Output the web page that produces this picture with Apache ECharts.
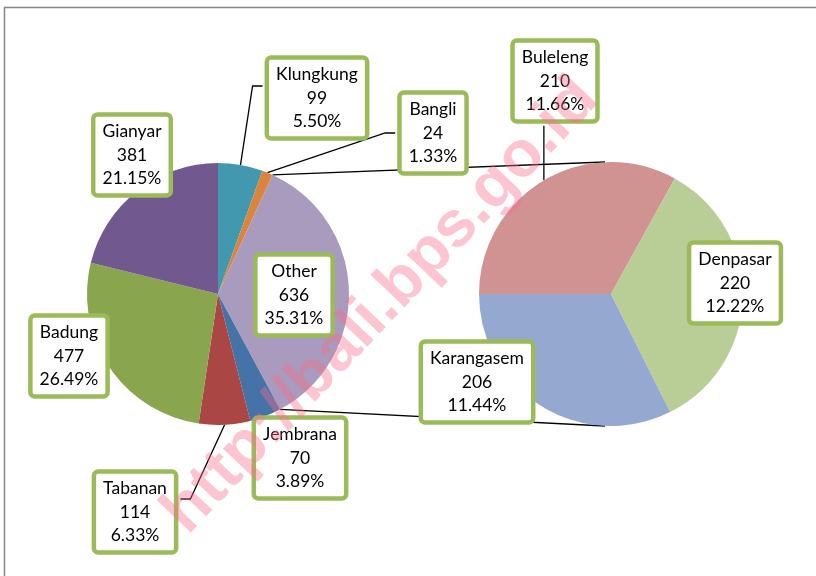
<!DOCTYPE html>
<html>
<head>
<meta charset="utf-8">
<style>
  html, body { margin: 0; padding: 0; background: #fff; }
  #chart { width: 816px; height: 576px; }
</style>
<script src="https://cdn.jsdelivr.net/npm/echarts@6/dist/echarts.min.js"></script>
</head>
<body>
<div id="chart"></div>
<script>
// kabupaten in the main pie (the "Other" slice sits after Bangli)
const mainNames = ['Klungkung', 'Bangli', 'Jembrana', 'Tabanan', 'Badung', 'Gianyar']
const mainValues = [99, 24, 70, 114, 477, 381]
// kabupaten split out into the second pie
const otherNames = ['Buleleng', 'Denpasar', 'Karangasem']
const otherValues = [210, 220, 206]

const mainColors = ['#4198AF', '#DB843D', '#4572A7', '#AA4643', '#89A54E', '#71588F']
const otherColor = '#A99BBD'
const otherColors = ['#D19392', '#B9CD96', '#95A9D0']

const sum = arr => arr.reduce((a, b) => a + b, 0)
const otherTotal = sum(otherValues)
const leftNames = [mainNames[0], mainNames[1], 'Other', ...mainNames.slice(2)]
const leftValues = [mainValues[0], mainValues[1], otherTotal, ...mainValues.slice(2)]
const leftColors = [mainColors[0], mainColors[1], otherColor, ...mainColors.slice(2)]
const grandTotal = sum(leftValues)

// geometry: start = degrees clockwise from 12 o'clock
const leftPie = { center: [218, 294], r: 131, start: 0 }
const rightPie = { center: [611, 294], r: 132, start: 270 }

// where each label box is centred
const labelPos = {
  Klungkung: [317, 98],
  Bangli: [433, 133],
  Other: [294, 295],
  Jembrana: [300, 458],
  Tabanan: [135, 512],
  Badung: [69, 356],
  Gianyar: [132, 155],
  Buleleng: [555, 81],
  Denpasar: [735, 283],
  Karangasem: [477, 382]
}
const leaders = {
  Klungkung: { side: 'left', dy: -12 },
  Bangli: { side: 'left', dy: 0 },
  Tabanan: { side: 'right', dy: -13 },
  Buleleng: { side: 'bottom', dy: 0 }
}

function angleAt (values, idx, start, frac) {
  const before = sum(values.slice(0, idx))
  return start + (before + values[idx] * frac) / sum(values) * 360
}
function pointAt (pie, deg) {
  const a = deg * Math.PI / 180
  return [pie.center[0] + pie.r * Math.sin(a), pie.center[1] - pie.r * Math.cos(a)]
}

function makeLayout (names, values, pie) {
  return function (params) {
    const name = names[params.dataIndex]
    const pos = labelPos[name]
    const w = params.labelRect.width
    const h = params.labelRect.height
    const res = { x: pos[0], y: pos[1], align: 'center', verticalAlign: 'middle' }
    const lead = leaders[name]
    if (lead) {
      const p0 = pointAt(pie, angleAt(values, params.dataIndex, pie.start, 0.5))
      let end, elbow
      if (lead.side === 'left') {
        end = [pos[0] - w / 2 - 2, pos[1] + lead.dy]
        elbow = [end[0] - 10, end[1]]
      } else if (lead.side === 'right') {
        end = [pos[0] + w / 2 + 2, pos[1] + lead.dy]
        elbow = [end[0] + 10, end[1]]
      } else {
        end = [p0[0], pos[1] + h / 2 + 2]
        elbow = end
      }
      res.labelLinePoints = [p0, elbow, end]
    }
    return res
  }
}

const labelStyle = {
  show: true,
  position: 'outside',
  formatter: p => p.name + '\n' + p.value + '\n' + (p.value / grandTotal * 100).toFixed(2) + '%',
  color: '#000',
  fontFamily: 'Lato',
  fontSize: 17.5,
  lineHeight: 23.5,
  align: 'center',
  backgroundColor: '#fff',
  borderColor: '#9BBB59',
  borderWidth: 4.5,
  borderRadius: 2,
  padding: [3, 7]
}
const lineStyle = { show: true, length: 10, length2: 10, lineStyle: { color: '#000', width: 1.3 } }

function buildData (names, values, colors) {
  return names.map((n, i) => ({
    name: n,
    value: values[i],
    itemStyle: { color: colors[i] },
    labelLine: { show: !!leaders[n] }
  }))
}

// connector lines from the edges of the "Other" slice to the second pie
const otherIdx = leftNames.indexOf('Other')
const topFrom = pointAt(leftPie, angleAt(leftValues, otherIdx, leftPie.start, 0))
const botFrom = pointAt(leftPie, angleAt(leftValues, otherIdx, leftPie.start, 1))
const topTo = [rightPie.center[0] - 6, rightPie.center[1] - rightPie.r]
const botTo = [rightPie.center[0] - 6, rightPie.center[1] + rightPie.r]

const myChart = echarts.init(document.getElementById('chart'))
myChart.setOption({
  animation: false,
  backgroundColor: '#fff',
  graphic: [
    {
      type: 'rect',
      shape: { x: 4.5, y: 7.5, width: 830, height: 600 },
      style: { fill: 'none', stroke: '#868686', lineWidth: 1.5 },
      z: 0
    },
    {
      type: 'line',
      shape: { x1: topFrom[0], y1: topFrom[1], x2: topTo[0], y2: topTo[1] },
      style: { stroke: '#000', lineWidth: 1.3 },
      z: 1
    },
    {
      type: 'line',
      shape: { x1: botFrom[0], y1: botFrom[1], x2: botTo[0], y2: botTo[1] },
      style: { stroke: '#000', lineWidth: 1.3 },
      z: 1
    },
    {
      type: 'text',
      x: 381,
      y: 306,
      rotation: 46.5 * Math.PI / 180,
      style: {
        text: 'http://bali.bps.go.id',
        font: 'bold 65px "Liberation Sans"',
        fill: 'rgba(248,110,140,0.4)',
        align: 'center',
        verticalAlign: 'middle'
      },
      z: 100
    }
  ],
  series: [
    {
      name: 'main',
      type: 'pie',
      center: leftPie.center,
      radius: leftPie.r,
      startAngle: 90 - leftPie.start,
      clockwise: true,
      avoidLabelOverlap: false,
      label: labelStyle,
      labelLine: lineStyle,
      labelLayout: makeLayout(leftNames, leftValues, leftPie),
      emphasis: { disabled: true },
      data: buildData(leftNames, leftValues, leftColors)
    },
    {
      name: 'other',
      type: 'pie',
      center: rightPie.center,
      radius: rightPie.r,
      startAngle: 90 - rightPie.start,
      clockwise: true,
      avoidLabelOverlap: false,
      label: labelStyle,
      labelLine: lineStyle,
      labelLayout: makeLayout(otherNames, otherValues, rightPie),
      emphasis: { disabled: true },
      data: buildData(otherNames, otherValues, otherColors)
    }
  ]
})
</script>
</body>
</html>
